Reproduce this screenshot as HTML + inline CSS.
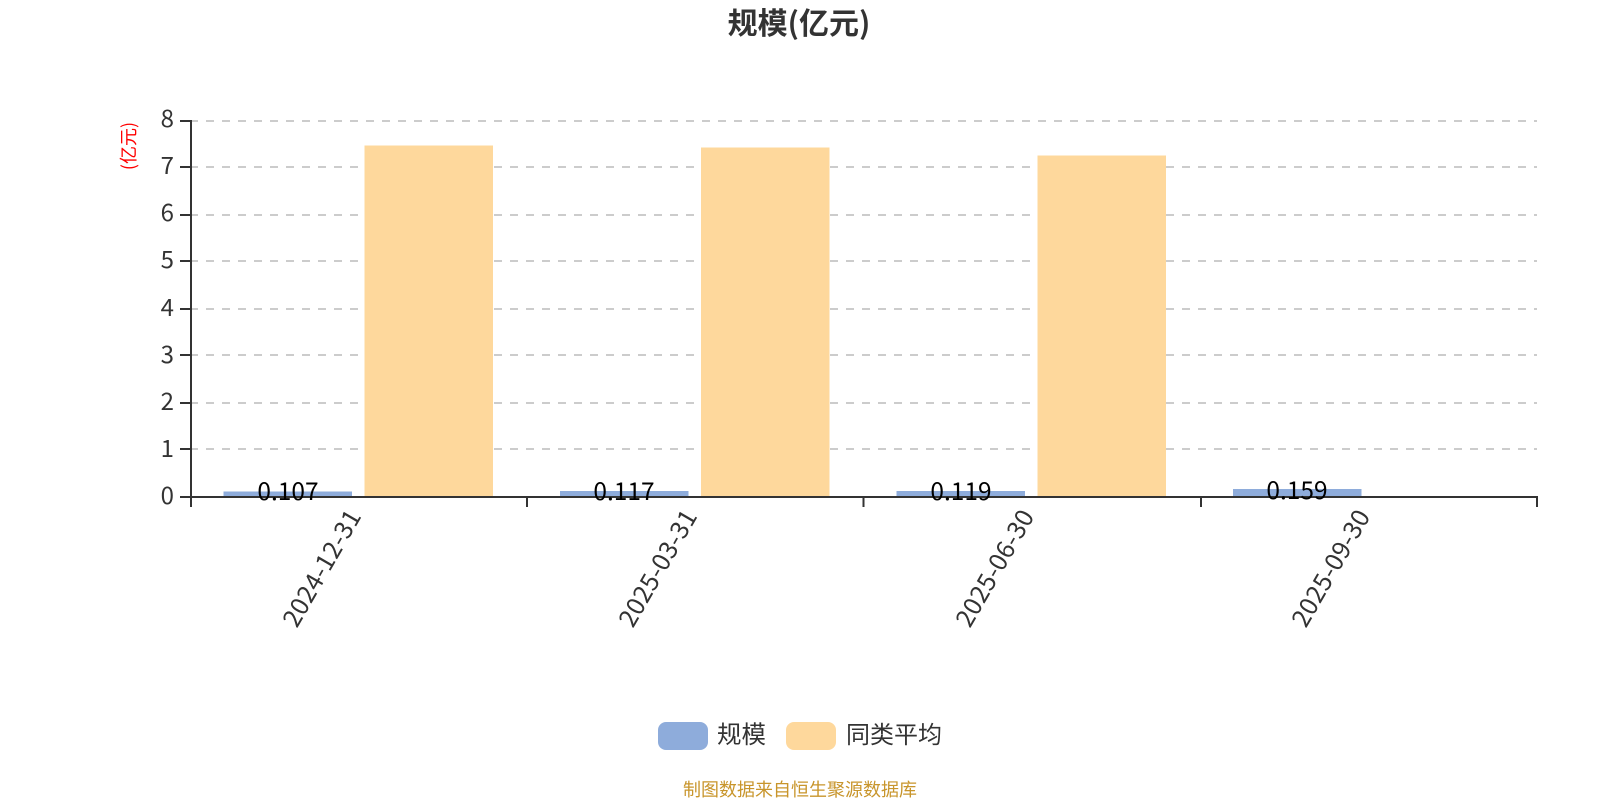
<!DOCTYPE html>
<html>
<head>
<meta charset="utf-8">
<style>
html,body{margin:0;padding:0;background:#fff;width:1600px;height:800px;overflow:hidden}
svg{display:block}
text{font-family:"Noto Sans CJK SC","Liberation Sans",sans-serif}
</style>
</head>
<body>
<svg width="1600" height="800" viewBox="0 0 1600 800" xmlns="http://www.w3.org/2000/svg">
<rect width="1600" height="800" fill="#fff"/>
<text x="799" y="34" text-anchor="middle" font-size="30" font-weight="bold" fill="#333">规模(亿元)</text>
<text transform="translate(135,146) rotate(-90)" text-anchor="middle" font-size="18" fill="#f00">(亿元)</text>

<g stroke="#ccc" stroke-width="2" stroke-dasharray="8 8" fill="none">
<path d="M190 121H1537"/><path d="M190 167H1537"/><path d="M190 215H1537"/><path d="M190 261H1537"/>
<path d="M190 309H1537"/><path d="M190 355H1537"/><path d="M190 403H1537"/><path d="M190 449H1537"/>
</g>

<g fill="#fed89c">
<rect x="364.5" y="145.5" width="128.5" height="351.5"/>
<rect x="701" y="147.5" width="128.5" height="349.5"/>
<rect x="1037.5" y="155.5" width="128.5" height="341.5"/>
</g>
<g fill="#8eacdb">
<rect x="223.5" y="491.5" width="128.5" height="5.5"/>
<rect x="560" y="491" width="128.5" height="6"/>
<rect x="896.5" y="491" width="128.5" height="6"/>
<rect x="1233" y="489" width="128.5" height="8"/>
</g>

<g stroke="#333" stroke-width="2" fill="none">
<path d="M191 120V507"/>
<path d="M180 121H191M180 167H191M180 215H191M180 261H191M180 309H191M180 355H191M180 403H191M180 449H191M180 497H191"/>
<path d="M190 497H1538"/>
<path d="M527 497V507M863.5 497V507M1201 497V507M1537 497V507"/>
</g>

<g font-size="24" fill="#333" text-anchor="end">
<text x="174" y="127">8</text>
<text x="174" y="174">7</text>
<text x="174" y="221">6</text>
<text x="174" y="268">5</text>
<text x="174" y="316">4</text>
<text x="174" y="363">3</text>
<text x="174" y="410">2</text>
<text x="174" y="457">1</text>
<text x="174" y="504">0</text>
</g>

<g font-size="24.5" fill="#000" text-anchor="middle">
<text x="288" y="500">0.107</text>
<text x="624" y="500">0.117</text>
<text x="961" y="500">0.119</text>
<text x="1297" y="499">0.159</text>
</g>

<g font-size="25" fill="#333" text-anchor="end" letter-spacing="0.2">
<text transform="translate(362,516) rotate(-60)">2024-12-31</text>
<text transform="translate(698,516) rotate(-60)">2025-03-31</text>
<text transform="translate(1035,516) rotate(-60)">2025-06-30</text>
<text transform="translate(1371,516) rotate(-60)">2025-09-30</text>
</g>

<rect x="658" y="722" width="50" height="28" rx="8" fill="#8eacdb"/>
<text x="717" y="743" font-size="24.5" fill="#333">规模</text>
<rect x="786" y="722" width="50" height="28" rx="8" fill="#fed89c"/>
<text x="846" y="743" font-size="24" fill="#333">同类平均</text>

<text x="800" y="796" text-anchor="middle" font-size="18" fill="#c8952b">制图数据来自恒生聚源数据库</text>
</svg>
</body>
</html>
